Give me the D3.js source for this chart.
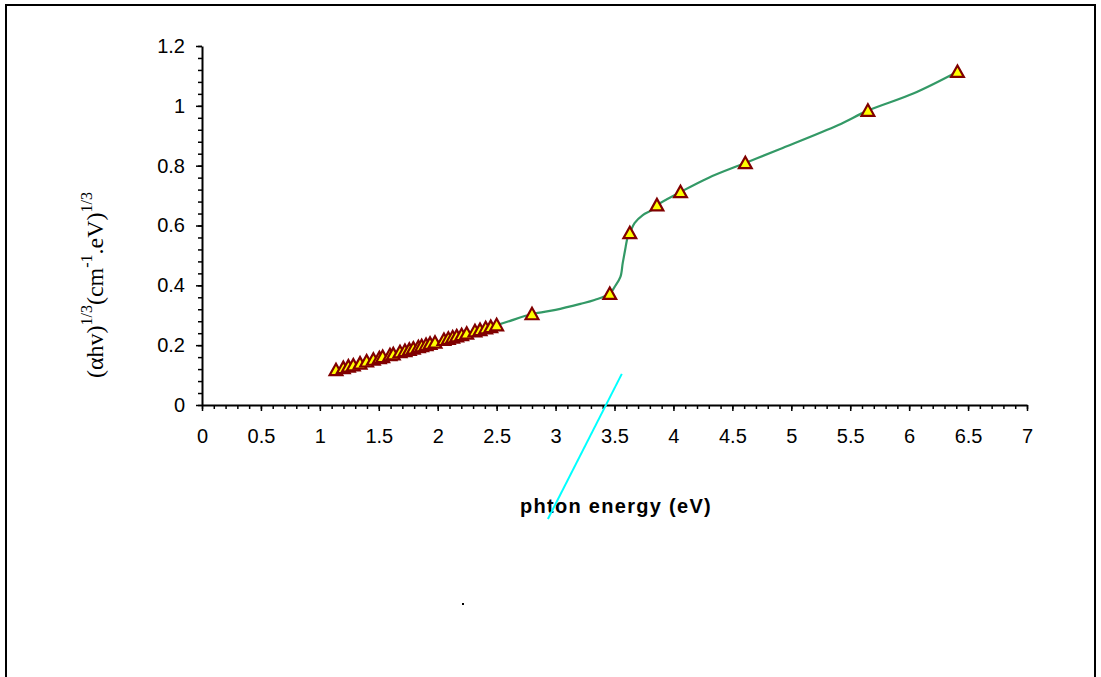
<!DOCTYPE html>
<html><head><meta charset="utf-8">
<script src="https://cdn.jsdelivr.net/npm/d3@7"></script>
<style>body{margin:0;background:#fff}svg{display:block}</style>
</head><body><svg id="chart" width="1101" height="677"></svg>
<script>
// Measured points (photon energy in eV, (alpha h nu)^(1/3))
const energyX = [1.137, 1.199, 1.242, 1.284, 1.341, 1.397, 1.454, 1.505, 1.533, 1.595, 1.623, 1.680, 1.722, 1.759, 1.793, 1.836, 1.864, 1.901, 1.935, 1.977, 2.053, 2.090, 2.127, 2.161, 2.203, 2.246, 2.316, 2.359, 2.407, 2.450, 2.500,
                 2.80, 3.46, 3.63, 3.86, 4.06, 4.61, 5.65, 6.41];
const alphaY  = [0.117, 0.124, 0.129, 0.133, 0.139, 0.146, 0.152, 0.157, 0.161, 0.167, 0.170, 0.177, 0.181, 0.185, 0.189, 0.194, 0.197, 0.201, 0.205, 0.209, 0.218, 0.222, 0.226, 0.230, 0.234, 0.239, 0.247, 0.251, 0.257, 0.261, 0.267,
                 0.304, 0.372, 0.575, 0.668, 0.712, 0.809, 0.984, 1.114];
// Smoothed trend line
const curveX = [1.137, 2.50, 2.80, 3.00, 3.21, 3.33, 3.46, 3.50, 3.55, 3.57, 3.59, 3.61, 3.63, 3.67, 3.74, 3.82, 3.86, 4.06, 4.30, 4.61, 4.90, 5.40, 5.65, 6.04, 6.41];
const curveY = [0.117, 0.267, 0.304, 0.318, 0.338, 0.351, 0.372, 0.394, 0.428, 0.475, 0.518, 0.558, 0.575, 0.608, 0.635, 0.652, 0.668, 0.712, 0.760, 0.809, 0.855, 0.936, 0.984, 1.042, 1.114];
// Tangent (band-gap extrapolation) line
const fitX = [2.935, 3.562];
const fitY = [-0.381, 0.104];

const xTicks = [0, 0.5, 1, 1.5, 2, 2.5, 3, 3.5, 4, 4.5, 5, 5.5, 6, 6.5, 7];
const xTickLabels = ["0", "0.5", "1", "1.5", "2", "2.5", "3", "3.5", "4", "4.5", "5", "5.5", "6", "6.5", "7"];
const yTicks = [0, 0.2, 0.4, 0.6, 0.8, 1, 1.2];
const yTickLabels = ["0", "0.2", "0.4", "0.6", "0.8", "1", "1.2"];
const xMinor = d3.range(0, 71).map(i => i / 10);
const yMinor = d3.range(0, 31).map(i => i * 0.04);

const svg = d3.select("#chart");
svg.append("rect").attr("x", 6).attr("y", 5).attr("width", 1089).attr("height", 700)
  .attr("fill", "#fff").attr("stroke", "#000").attr("stroke-width", 2);

const x = d3.scaleLinear().domain([0, 7]).range([202, 1027]);
const y = d3.scaleLinear().domain([0, 1.2]).range([405, 46]);

const font = "'Liberation Sans', Arial, sans-serif";

// minor ticks
svg.append("g").attr("transform", "translate(0,405)")
  .call(d3.axisBottom(x).tickValues(xMinor).tickSize(4).tickSizeOuter(0).tickFormat(""))
  .call(g => g.select(".domain").remove())
  .call(g => g.selectAll("line").attr("stroke-width", 1.5));
svg.append("g").attr("transform", "translate(202,0)")
  .call(d3.axisLeft(y).tickValues(yMinor).tickSize(4).tickSizeOuter(0).tickFormat(""))
  .call(g => g.select(".domain").remove())
  .call(g => g.selectAll("line").attr("stroke-width", 1.5));

// major axes
const xa = svg.append("g").attr("transform", "translate(0,405)")
  .call(d3.axisBottom(x).tickValues(xTicks).tickSize(6).tickSizeOuter(0).tickPadding(18)
    .tickFormat((d, i) => xTickLabels[i]));
xa.select(".domain").attr("stroke-width", 2);
xa.selectAll("line").attr("stroke-width", 1.5);
xa.selectAll("text").attr("font-family", font).attr("font-size", 20).attr("fill", "#000");

const ya = svg.append("g").attr("transform", "translate(202,0)")
  .call(d3.axisLeft(y).tickValues(yTicks).tickSize(6).tickSizeOuter(0).tickPadding(11)
    .tickFormat((d, i) => yTickLabels[i]));
ya.select(".domain").attr("stroke-width", 2);
ya.selectAll("line").attr("stroke-width", 1.5);
ya.selectAll("text").attr("font-family", font).attr("font-size", 20).attr("fill", "#000");

// trend curve
const curvePts = curveX.map((d, i) => [d, curveY[i]]);
svg.append("path").datum(curvePts)
  .attr("d", d3.line().x(d => x(d[0])).y(d => y(d[1])).curve(d3.curveCatmullRom.alpha(0.5)))
  .attr("fill", "none").attr("stroke", "#339966").attr("stroke-width", 2.2);

// markers
const tri = "M0,-6.3L6.4,5.2L-6.4,5.2Z";
svg.append("g").selectAll("path").data(energyX.map((d, i) => [d, alphaY[i]]))
  .join("path")
  .attr("d", tri)
  .attr("transform", d => `translate(${x(d[0])},${y(d[1])})`)
  .attr("fill", "#ffff00").attr("stroke", "#800000").attr("stroke-width", 2.2)
  .attr("stroke-linejoin", "miter");

// x title
svg.append("text").attr("x", 616).attr("y", 513).attr("text-anchor", "middle")
  .attr("font-family", font).attr("font-weight", "bold").attr("font-size", 20)
  .attr("letter-spacing", 1.3).attr("fill", "#000").text("phton energy (eV)");

// y title
const yt = svg.append("text").attr("transform", "translate(103,285) rotate(-90)")
  .attr("text-anchor", "middle").attr("font-family", "'Liberation Serif', 'Times New Roman', serif")
  .attr("font-size", 24).attr("fill", "#000");
yt.append("tspan").text("(αhv)");
yt.append("tspan").attr("font-size", 16).attr("dy", -11).text("1/3");
yt.append("tspan").attr("dy", 11).text("(cm");
yt.append("tspan").attr("font-size", 16).attr("dy", -11).text("-1");
yt.append("tspan").attr("dy", 11).text(".eV)");
yt.append("tspan").attr("font-size", 16).attr("dy", -11).text("1/3");

// tangent line
const fitPts = fitX.map((d, i) => [d, fitY[i]]);
svg.append("path").datum(fitPts)
  .attr("d", d3.line().x(d => x(d[0])).y(d => y(d[1])))
  .attr("stroke", "#00ffff").attr("stroke-width", 2).attr("fill", "none");

// stray dot
svg.append("rect").attr("x", 462).attr("y", 603).attr("width", 2).attr("height", 2).attr("fill", "#000");
</script>
</body></html>
